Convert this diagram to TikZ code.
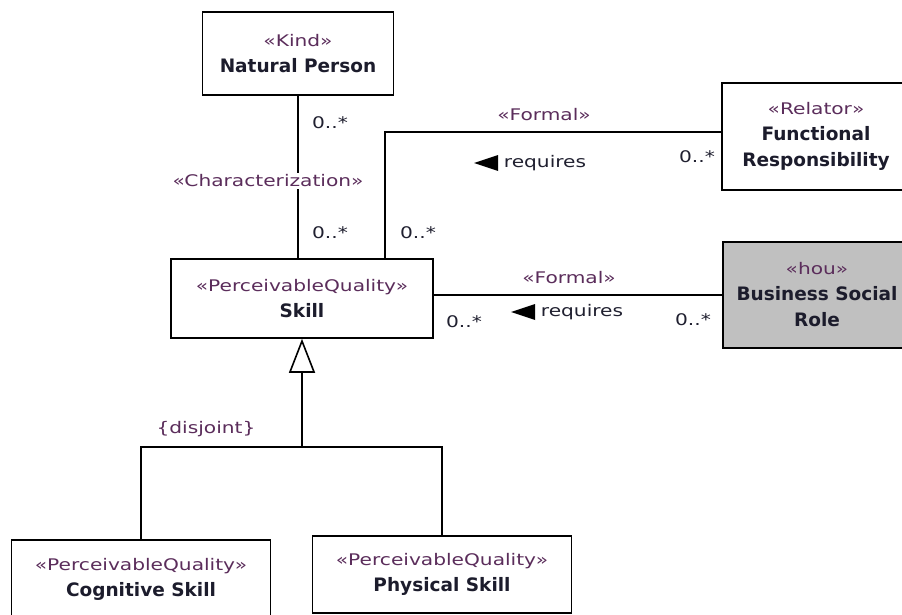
\documentclass[tikz,border=0pt]{standalone}
\usepackage{fontspec}
\setmainfont{DejaVu Sans}
\newfontfamily\stfont[FakeStretch=1.26]{DejaVu Sans}
\usetikzlibrary{arrows.meta}
\definecolor{stc}{HTML}{5B2D5B}
\definecolor{nmc}{HTML}{1C1C2C}
\definecolor{lbc}{HTML}{202030}
\definecolor{grayfill}{HTML}{C0C0C0}
\newcommand{\stereo}[1]{{\stfont\fontsize{16}{26}\selectfont\color{stc}«#1»}}
\newcommand{\nm}[1]{{\fontsize{18.5}{26}\selectfont\bfseries\color{nmc}#1}}
\begin{document}
\begin{tikzpicture}[x=1pt,y=-1pt,line width=1.6pt,
  cls/.style={draw=black, align=center, inner sep=0pt, font=\fontsize{17}{26}\selectfont},
  lbl/.style={font=\stfont\fontsize{16}{20}\selectfont, text=lbc, inner sep=1pt},
  stlbl/.style={font=\stfont\fontsize{16}{20}\selectfont, text=stc, inner sep=1pt},
  gentip/.style={-{Triangle[open,length=34pt,width=26pt,fill=white]}}]
\useasboundingbox (0,0) rectangle (902,615);
\fill[white] (0,0) rectangle (902,615);
% classes
\node[cls, minimum width=191, minimum height=83] (np) at (298,53.5) {\stereo{Kind}\\\nm{Natural Person}};
\node[cls, minimum width=188, minimum height=107] (fr) at (816,136.5) {\stereo{Relator}\\\nm{Functional}\\\nm{Responsibility}};
\node[cls, fill=grayfill, minimum width=188, minimum height=106] (bsr) at (817,295) {\stereo{hou}\\\nm{Business Social}\\\nm{Role}};
\node[cls, minimum width=262, minimum height=79] (skill) at (302,298.5) {\stereo{PerceivableQuality}\\\nm{Skill}};
\node[cls, minimum width=259, minimum height=78] (cog) at (141,579) {\stereo{PerceivableQuality}\\\nm{Cognitive Skill}};
\node[cls, minimum width=259, minimum height=77] (phys) at (442,574.5) {\stereo{PerceivableQuality}\\\nm{Physical Skill}};
% connectors
\draw (np.south) -- (np.south |- skill.north);
\coordinate (fa) at (385,132);
\draw (skill.north -| fa) -- (fa) -- (fa -| fr.west);
\draw (skill.east |- bsr.west) -- (bsr.west);
\coordinate (gj) at (302,447);
\draw (cog.north) |- (gj) -| (phys.north);
\draw[gentip] (gj) -- (skill.south);
% labels
\node[lbl] (m1) at (330,123) {0..*};
\node[stlbl, fill=white, inner sep=2pt] (chz) at (268,181) {«Characterization»};
\node[lbl] (m2) at (330,233) {0..*};
\node[stlbl] (f1) at (544,115) {«Formal»};
\node[lbl] (r1) at (545,163) {requires};
\fill[black] ([xshift=-4]r1.west) ++(0,-8) -- ++(0,16) -- ++(-24,-8) -- cycle;
\node[lbl] (m3) at (697,157) {0..*};
\node[lbl] (m4) at (418,233) {0..*};
\node[stlbl] (f2) at (569,278) {«Formal»};
\node[lbl] (r2) at (582,312) {requires};
\fill[black] ([xshift=-4]r2.west) ++(0,-8) -- ++(0,16) -- ++(-24,-8) -- cycle;
\node[lbl] (m5) at (464,322) {0..*};
\node[lbl] (m6) at (693,320) {0..*};
\node[stlbl] (dj) at (206,429) {\{disjoint\}};
\end{tikzpicture}
\end{document}
